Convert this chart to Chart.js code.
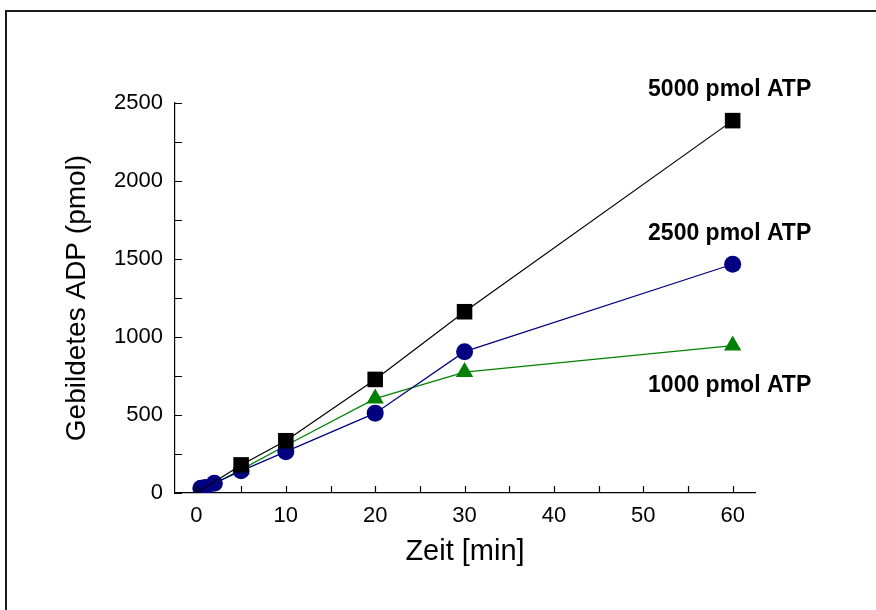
<!DOCTYPE html>
<html>
<head>
<meta charset="utf-8">
<script src="https://cdn.jsdelivr.net/npm/chart.js@4/dist/chart.umd.min.js"></script>
<style>
  html, body { margin: 0; padding: 0; background: #fff; }
  #wrap { width: 876px; height: 610px; position: relative; }
</style>
</head>
<body>
<div id="wrap"><canvas id="c" width="876" height="610"></canvas></div>
<script>
// Zeitpunkte (min)
const timeShort = [0, 5, 10, 20, 30, 60];
const timeLong = [0, 0.5, 1, 2, 5, 10, 20, 30, 60];

// Gebildetes ADP (pmol) je ATP-Einsatz
const adp5000 = [0, 180, 335, 728, 1162, 2387];
const adp2500 = [0, 30, 35, 62, 142, 265, 512, 906, 1466];
const adp1000 = [0, 150, 305, 605, 775, 945];

// Achsenteilung
const xMajorTicks = [0, 10, 20, 30, 40, 50, 60];
const xMinorTicks = [5, 15, 25, 35, 45, 55];
const yMajorTicks = [0, 500, 1000, 1500, 2000, 2500];
const yMinorTicks = [250, 750, 1250, 1750, 2250];

const seriesNames = ['5000 pmol ATP', '2500 pmol ATP', '1000 pmol ATP'];

const FONT = "'Liberation Sans', Arial, Helvetica, sans-serif";

function toPoints(xs, ys) {
  return xs.map((x, i) => ({ x: x, y: ys[i] }));
}
// no marker drawn at the origin
function radii(n, r) {
  const a = new Array(n).fill(r);
  a[0] = 0;
  return a;
}

// label placement next to the last point of each series (pixel offsets)
const labelOffsets = [-32, -32, 39];

const framePlugin = {
  id: 'frame',
  beforeDraw(chart) {
    const ctx = chart.ctx;
    ctx.save();
    ctx.fillStyle = '#fff';
    ctx.fillRect(0, 0, chart.width, chart.height);
    ctx.strokeStyle = '#1a1a1a';
    ctx.lineWidth = 2;
    ctx.beginPath();
    ctx.moveTo(6, chart.height + 2);
    ctx.lineTo(6, 11);
    ctx.lineTo(chart.width + 2, 11);
    ctx.stroke();
    ctx.restore();
  }
};

const tickPlugin = {
  id: 'innerTicks',
  afterDatasetsDraw(chart) {
    const ctx = chart.ctx;
    const xs = chart.scales.x, ys = chart.scales.y;
    const len = 7;
    ctx.save();
    ctx.strokeStyle = '#000';
    ctx.lineWidth = 1.2;
    ctx.beginPath();
    xMajorTicks.concat(xMinorTicks).forEach(v => {
      const px = Math.round(xs.getPixelForValue(v)) + 0.5;
      ctx.moveTo(px, ys.bottom);
      ctx.lineTo(px, ys.bottom - len);
    });
    yMajorTicks.concat(yMinorTicks).forEach(v => {
      const py = Math.round(ys.getPixelForValue(v)) + 0.5;
      ctx.moveTo(xs.left, py);
      ctx.lineTo(xs.left + len, py);
    });
    ctx.stroke();

    // series names beside the 60-min points
    ctx.fillStyle = '#000';
    ctx.font = 'bold 23px ' + FONT;
    ctx.textAlign = 'center';
    ctx.textBaseline = 'middle';
    chart.data.datasets.forEach((ds, i) => {
      const last = ds.data[ds.data.length - 1];
      const px = xs.getPixelForValue(last.x);
      const py = ys.getPixelForValue(last.y) + labelOffsets[i];
      ctx.fillText(ds.label, px - 3, py + 1);
    });
    ctx.restore();
  }
};

new Chart(document.getElementById('c'), {
  type: 'scatter',
  data: {
    datasets: [
      {
        label: seriesNames[0],
        data: toPoints(timeShort, adp5000),
        showLine: true,
        borderColor: '#000000',
        backgroundColor: '#000000',
        borderWidth: 1.2,
        pointStyle: 'rect',
        pointRadius: radii(timeShort.length, 11),
        pointBorderWidth: 0,
        pointBackgroundColor: '#000000'
      },
      {
        label: seriesNames[1],
        data: toPoints(timeLong, adp2500),
        showLine: true,
        borderColor: '#000080',
        backgroundColor: '#000080',
        borderWidth: 1.2,
        pointStyle: 'circle',
        pointRadius: radii(timeLong.length, 8.5),
        pointBorderWidth: 0,
        pointBackgroundColor: '#000080'
      },
      {
        label: seriesNames[2],
        data: toPoints(timeShort, adp1000),
        showLine: true,
        borderColor: '#008000',
        backgroundColor: '#008000',
        borderWidth: 1.2,
        pointStyle: 'triangle',
        pointRadius: radii(timeShort.length, 10),
        pointBorderWidth: 0,
        pointBackgroundColor: '#008000'
      }
    ]
  },
  options: {
    responsive: false,
    animation: false,
    devicePixelRatio: 1,
    layout: { padding: { top: 103, right: 121, left: 0, bottom: 0 } },
    plugins: {
      legend: { display: false },
      tooltip: { enabled: false }
    },
    scales: {
      x: {
        type: 'linear',
        min: -2.4,
        max: 62.5,
        afterBuildTicks: s => { s.ticks = xMajorTicks.map(v => ({ value: v })); },
        afterFit: s => { s.height = 117; },
        grid: { display: false, drawTicks: false },
        border: { display: true, color: '#000', width: 1.2 },
        ticks: {
          font: { family: FONT, size: 22 },
          color: '#000',
          padding: 10,
          maxRotation: 0,
          autoSkip: false,
          callback: v => String(v)
        },
        title: {
          display: true,
          text: 'Zeit [min]',
          color: '#000',
          font: { family: FONT, size: 29 },
          padding: { top: 0, bottom: 41 }
        }
      },
      y: {
        type: 'linear',
        min: 0,
        max: 2500,
        afterBuildTicks: s => { s.ticks = yMajorTicks.map(v => ({ value: v })); },
        afterFit: s => { s.width = 175; },
        grid: { display: false, drawTicks: false },
        border: { display: true, color: '#000', width: 1.2 },
        ticks: {
          font: { family: FONT, size: 22 },
          color: '#000',
          padding: 12,
          autoSkip: false,
          callback: v => String(v)
        },
        title: {
          display: true,
          text: 'Gebildetes ADP (pmol)',
          color: '#000',
          font: { family: FONT, size: 28 },
          padding: { top: 60, bottom: 0 }
        }
      }
    }
  },
  plugins: [framePlugin, tickPlugin]
});
</script>
</body>
</html>
